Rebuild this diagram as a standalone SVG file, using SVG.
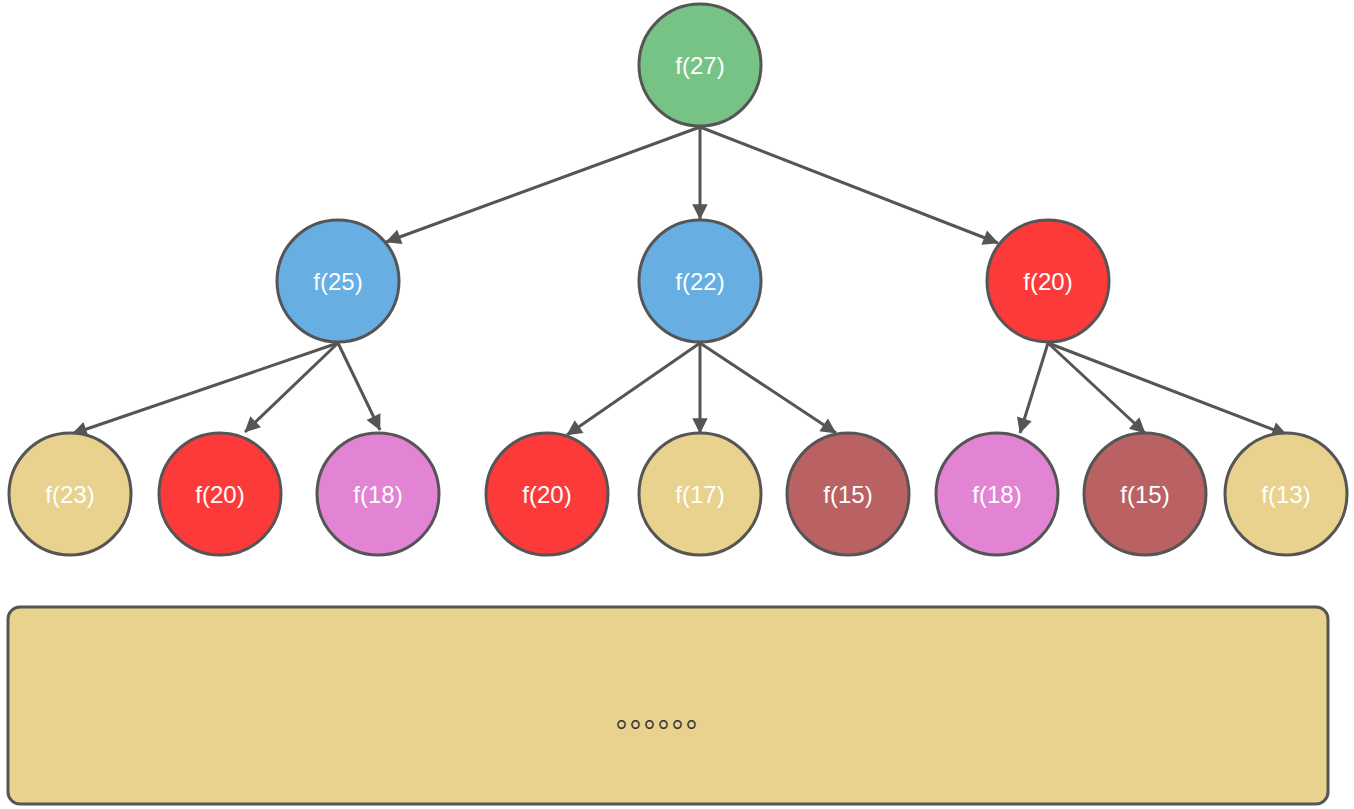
<svg xmlns="http://www.w3.org/2000/svg" width="1354" height="809" viewBox="0 0 1354 809">
<style>
.n{stroke:#555;stroke-width:3}
.t{font-family:"Liberation Sans",Arial,sans-serif;font-size:24px;fill:#fff;text-anchor:middle;dominant-baseline:central}
.e{stroke:#555;stroke-width:3;fill:none;marker-end:url(#a)}
.g{fill:#77c386}.b{fill:#67aee3}.r{fill:#fd3a3a}.y{fill:#e9d28d}.p{fill:#e383d4}.m{fill:#ba6263}
</style>
<defs><marker id="a" viewBox="0 0 10 10" refX="9" refY="5" markerWidth="7" markerHeight="7" markerUnits="userSpaceOnUse" orient="auto" style="overflow:visible"><path d="M0,0 L10,5 L0,10 z" fill="#555" transform="scale(2.2) translate(-5.5,-2.7)"/></marker></defs>
<rect x="0" y="0" width="1354" height="809" fill="#fff"/>
<g id="connectors">
<line class="e" x1="700" y1="127" x2="386" y2="242"/>
<line class="e" x1="700" y1="127" x2="700" y2="219"/>
<line class="e" x1="700" y1="127" x2="998" y2="243"/>
<line class="e" x1="338" y1="343" x2="72" y2="434"/>
<line class="e" x1="338" y1="343" x2="245" y2="432"/>
<line class="e" x1="338" y1="343" x2="380" y2="430"/>
<line class="e" x1="700" y1="343" x2="567" y2="435"/>
<line class="e" x1="700" y1="343" x2="700" y2="433"/>
<line class="e" x1="700" y1="343" x2="836" y2="433"/>
<line class="e" x1="1048" y1="343" x2="1020" y2="433"/>
<line class="e" x1="1048" y1="343" x2="1145" y2="433"/>
<line class="e" x1="1048" y1="343" x2="1287" y2="435"/>
</g>
<g id="n27"><circle class="n g" cx="700" cy="65" r="61"/><text class="t" x="700" y="65">f(27)</text></g>
<g id="n25"><circle class="n b" cx="338" cy="281" r="61"/><text class="t" x="338" y="281">f(25)</text></g>
<g id="n22"><circle class="n b" cx="700" cy="281" r="61"/><text class="t" x="700" y="281">f(22)</text></g>
<g id="n20a"><circle class="n r" cx="1048" cy="281" r="61"/><text class="t" x="1048" y="281">f(20)</text></g>
<g id="n23"><circle class="n y" cx="70" cy="494" r="61"/><text class="t" x="70" y="494">f(23)</text></g>
<g id="n20b"><circle class="n r" cx="220" cy="494" r="61"/><text class="t" x="220" y="494">f(20)</text></g>
<g id="n18a"><circle class="n p" cx="378" cy="494" r="61"/><text class="t" x="378" y="494">f(18)</text></g>
<g id="n20c"><circle class="n r" cx="547" cy="494" r="61"/><text class="t" x="547" y="494">f(20)</text></g>
<g id="n17"><circle class="n y" cx="700" cy="494" r="61"/><text class="t" x="700" y="494">f(17)</text></g>
<g id="n15a"><circle class="n m" cx="848" cy="494" r="61"/><text class="t" x="848" y="494">f(15)</text></g>
<g id="n18b"><circle class="n p" cx="997" cy="494" r="61"/><text class="t" x="997" y="494">f(18)</text></g>
<g id="n15b"><circle class="n m" cx="1145" cy="494" r="61"/><text class="t" x="1145" y="494">f(15)</text></g>
<g id="n13"><circle class="n y" cx="1286" cy="494" r="61"/><text class="t" x="1286" y="494">f(13)</text></g>
<g id="box"><rect class="n y" x="8" y="607" width="1320" height="197" rx="12"/>
<text x="665" y="715" font-family="'Noto Sans CJK SC',sans-serif" font-size="28" fill="#333" text-anchor="middle" dominant-baseline="central" letter-spacing="0">。。。。。。</text></g>
</svg>
